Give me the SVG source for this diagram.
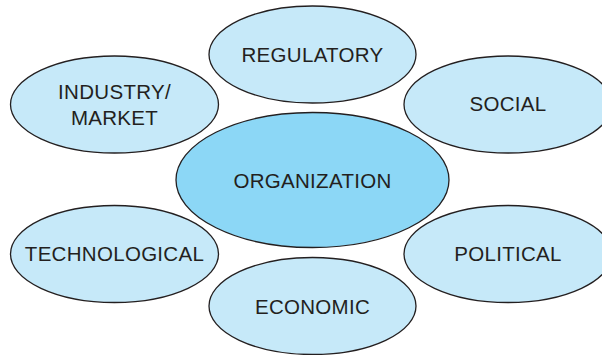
<svg xmlns="http://www.w3.org/2000/svg" width="602" height="355" viewBox="0 0 602 355">
<style>
.n ellipse{fill:#c6e9f9;stroke:#231f20;stroke-width:1.3}
.n.c ellipse{fill:#8cd7f6}
.n text{font-family:"Liberation Sans",Arial,sans-serif;font-size:20.5px;letter-spacing:0.3px;fill:#231f20;text-anchor:middle}
</style>
<rect width="602" height="355" fill="#ffffff"/>
<g id="connectors"></g>
<g id="regulatory" class="n"><ellipse cx="312.5" cy="54.5" rx="103.5" ry="48.5"/><text x="312.5" y="62">REGULATORY</text></g>
<g id="industry-market" class="n"><ellipse cx="114.5" cy="104.5" rx="104" ry="48.5"/><text x="114.5" y="99">INDUSTRY/</text><text x="114.5" y="125">MARKET</text></g>
<g id="social" class="n"><ellipse cx="508" cy="104.5" rx="104" ry="48.5"/><text x="508" y="111">SOCIAL</text></g>
<g id="technological" class="n"><ellipse cx="114.5" cy="254" rx="104" ry="48.5"/><text x="114.5" y="261">TECHNOLOGICAL</text></g>
<g id="political" class="n"><ellipse cx="508" cy="254" rx="104" ry="48.5"/><text x="508" y="261">POLITICAL</text></g>
<g id="economic" class="n"><ellipse cx="312.5" cy="306" rx="103.5" ry="48.5"/><text x="312.5" y="314">ECONOMIC</text></g>
<g id="organization" class="n c"><ellipse cx="312.5" cy="180" rx="136.5" ry="67.5"/><text x="312.5" y="188">ORGANIZATION</text></g>
</svg>
